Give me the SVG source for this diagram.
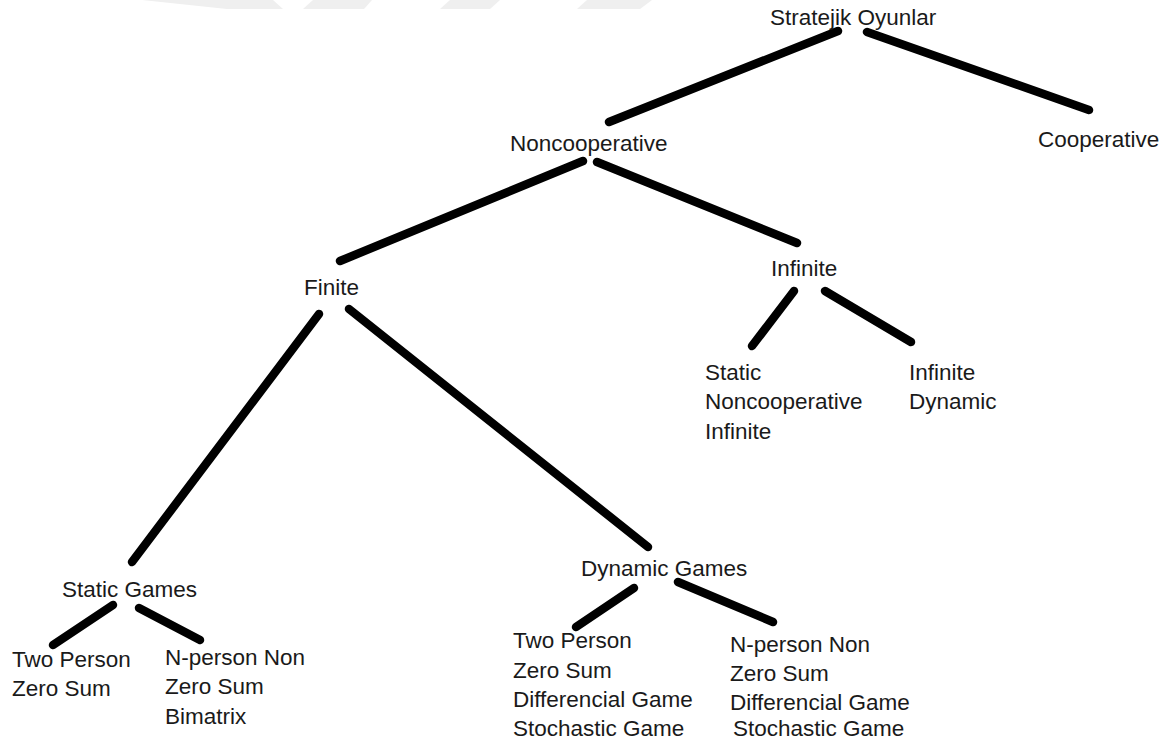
<svg xmlns="http://www.w3.org/2000/svg" width="1171" height="742" viewBox="0 0 1171 742">
<style>
text{font-family:"Liberation Sans",Arial,sans-serif;font-size:22.5px;fill:#1a1a1a}
.c line{stroke:#000;stroke-width:8.5;stroke-linecap:round}
.wm{fill:#efefef}
</style>
<rect width="1171" height="742" fill="#fff"/>
<g id="watermark">
<polygon class="wm" points="142,0 273,0 283,9 227,9"/>
<polygon class="wm" points="313,0 372,0 364,9 303,9"/>
<polygon class="wm" points="450,0 500,0 490,9 440,9"/>
<polygon class="wm" points="587,0 652,0 640,9 577,9"/>
</g>
<g id="connectors" class="c">
<line x1="838" y1="31" x2="609" y2="122"/>
<line x1="867" y1="32" x2="1089" y2="110"/>
<line x1="583" y1="161" x2="340" y2="261"/>
<line x1="597" y1="162" x2="797" y2="243"/>
<line x1="319" y1="314" x2="132" y2="562"/>
<line x1="349" y1="309" x2="648" y2="547"/>
<line x1="794" y1="291" x2="752" y2="346"/>
<line x1="825" y1="291" x2="911" y2="342"/>
<line x1="113" y1="605" x2="53" y2="645"/>
<line x1="139" y1="608" x2="200" y2="640"/>
<line x1="634" y1="588" x2="576" y2="627"/>
<line x1="678" y1="582" x2="773" y2="622"/>
</g>
<g id="n-root"><text x="770" y="25">Stratejik Oyunlar</text></g>
<g id="n-cooperative"><text x="1038" y="147">Cooperative</text></g>
<g id="n-noncooperative"><text x="510" y="151">Noncooperative</text></g>
<g id="n-finite"><text x="304" y="295">Finite</text></g>
<g id="n-infinite"><text x="771" y="276">Infinite</text></g>
<g id="n-static-noncoop-inf"><text x="705" y="380">Static</text><text x="705" y="409">Noncooperative</text><text x="705" y="439">Infinite</text></g>
<g id="n-infinite-dynamic"><text x="909" y="380">Infinite</text><text x="909" y="409">Dynamic</text></g>
<g id="n-static-games"><text x="62" y="597">Static Games</text></g>
<g id="n-dynamic-games"><text x="581" y="576">Dynamic Games</text></g>
<g id="n-static-two"><text x="12" y="667">Two Person</text><text x="12" y="696">Zero Sum</text></g>
<g id="n-static-n"><text x="165" y="665">N-person Non</text><text x="165" y="694">Zero Sum</text><text x="165" y="724">Bimatrix</text></g>
<g id="n-dyn-two"><text x="513" y="648">Two Person</text><text x="513" y="678">Zero Sum</text><text x="513" y="707">Differencial Game</text><text x="513" y="736">Stochastic Game</text></g>
<g id="n-dyn-n"><text x="730" y="652">N-person Non</text><text x="730" y="681">Zero Sum</text><text x="730" y="710">Differencial Game</text><text x="733" y="736">Stochastic Game</text></g>
</svg>
